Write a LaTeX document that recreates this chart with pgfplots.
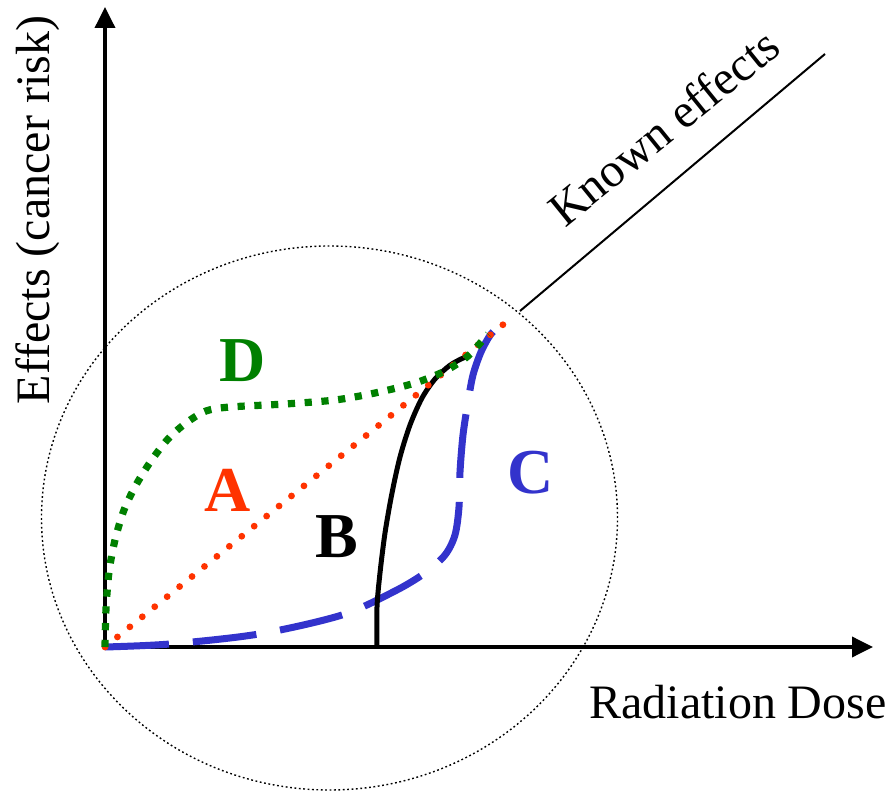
\documentclass[border=0pt]{standalone}
\usepackage{fontspec}
\setmainfont{LiberationSerif}[
  Extension=.ttf,
  UprightFont=*-Regular,
  BoldFont=*-Bold,
  ItalicFont=*-Italic,
  BoldItalicFont=*-BoldItalic]
\usepackage{pgfplots}
\pgfplotsset{compat=1.18}
\usetikzlibrary{arrows.meta}

\definecolor{curveA}{HTML}{FF3300}
\definecolor{curveB}{HTML}{000000}
\definecolor{curveC}{HTML}{3333CC}
\definecolor{curveD}{HTML}{008000}

\begin{document}
\begin{tikzpicture}
  \begin{axis}[
      scale only axis,
      width=192pt, height=160pt,
      xmin=0, xmax=768,
      ymin=0, ymax=640,
      axis lines=left,
      xtick=\empty, ytick=\empty,
      axis line style={line width=0.9pt, -{Triangle[length=5.25pt,width=5pt]}},
      clip=false,
    ]
    % frame of the whole picture
    \path (axis cs:-105,-145) rectangle (axis cs:784,647);

    % dotted circle around the low-dose region
    \draw[line width=0.35pt, dash pattern=on 0.45pt off 0.65pt]
      (axis cs:224.5,129) ellipse [x radius=72pt, y radius=68pt];

    % known effects
    \addplot[black, line width=0.5pt] coordinates {(415,336) (720,593)};

    % C: threshold-free but sublinear
    \addplot[curveC, line width=1.75pt, smooth, dash pattern=on 16pt off 6pt]
      coordinates {
        (0,0) (65,3) (154,13) (237,32) (290,56) (320,74) (340,92)
        (350,112) (354,140) (355,175) (358,212) (363,245) (368,272)
        (376,295) (386,313) (396,321) (400,323)
      };

    % B: threshold
    \addplot[curveB, line width=1.25pt, smooth] coordinates {
        (272,0) (272,40) (275,74) (280,114) (287,154) (295,190)
        (305,222) (317,249) (330,268) (344,281) (356,288) (364,291)
      };

    % A: linear no-threshold
    \addplot[curveA, line width=1.7pt, line cap=round,
             dash pattern=on 0pt off 4pt] coordinates {(0,0) (405,328)};

    % D: supralinear
    \addplot[curveD, line width=1.8pt, smooth, dash pattern=on 1.8pt off 2.4pt]
      coordinates {
        (0,0) (1,38) (4,75) (10,107) (19,137) (31,162) (46,186)
        (63,208) (81,224) (101,236) (125,240) (180,243) (230,247)
        (270,254) (310,264) (340,276) (363,291) (383,313)
      };

    \node[font=\fontsize{16}{18}\selectfont\bfseries, text=curveD, inner sep=0pt]
      at (axis cs:138,286) {D};
    \node[font=\fontsize{16}{18}\selectfont\bfseries, text=curveA, inner sep=0pt]
      at (axis cs:123,157) {A};
    \node[font=\fontsize{16}{18}\selectfont\bfseries, text=curveB, inner sep=0pt]
      at (axis cs:232,110) {B};
    \node[font=\fontsize{16}{18}\selectfont\bfseries, text=curveC, inner sep=0pt]
      at (axis cs:426,174) {C};

    \node[font=\fontsize{12}{14}\selectfont, rotate=39, anchor=base, inner sep=0pt]
      at (axis cs:569,507) {Known effects};
    \node[font=\fontsize{12}{14}\selectfont, rotate=90, anchor=base, inner sep=0pt]
      at (axis cs:-55,437) {Effects (cancer risk)};
    \node[font=\fontsize{12}{14}\selectfont, anchor=base, inner sep=0pt]
      at (axis cs:633,-71) {Radiation Dose};
  \end{axis}
\end{tikzpicture}
\end{document}
